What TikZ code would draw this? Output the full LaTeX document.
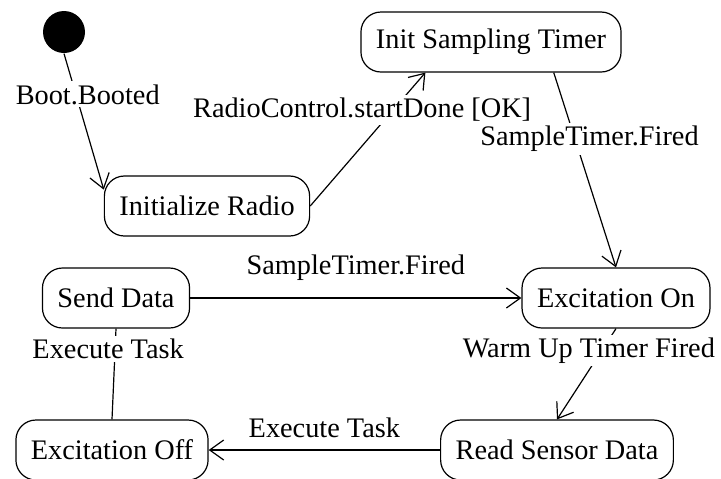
\documentclass[tikz,border=0pt]{standalone}
\usepackage{fontspec}
\setmainfont{Liberation Serif}
\usetikzlibrary{arrows.meta}
\begin{document}
\begin{tikzpicture} [
   x=0.5pt, y=-0.5pt, line width=0.6pt,
   -{Straight Barb[length=7pt,width=10pt]},
   font=\fontsize{14.15pt}{17pt}\selectfont,
   st/.style={rectangle, rounded corners=10pt, draw, minimum height=30pt, inner xsep=7.5pt},
   ini/.style={circle, fill, minimum size=21pt, inner sep=0pt},
   lbl/.style={fill=white, inner sep=1.5pt}
]
   \clip[-] (0,0) rectangle (721,478);
   \node (boot) [ini] at (64,32) {};
   \node (radio) [st] at (207,206) {Initialize Radio};
   \node (timer) [st] at (491,42) {Init Sampling Timer};
   \node (send) [st] at (116,298) {Send Data};
   \node (on) [st, right of=send, node distance=250pt] {Excitation On};
   \node (off) [st] at (112,450) {Excitation Off};
   \node (read) [st, right of=off, node distance=222.5pt] {Read Sensor Data};
   \path (boot.south) edge node [lbl, pos=0.3, xshift=5.9pt] {Boot.Booted} (radio.171)
         (radio.east) edge node [lbl, pos=0.72, xshift=-15.5pt] {RadioControl.startDone [OK]} (timer.205)
         (timer.334) edge node [lbl, pos=0.34, xshift=7.3pt] {SampleTimer.Fired} (on.north)
         (send.east) edge node [lbl, yshift=15pt] {SampleTimer.Fired} (on.west)
         (on.south) edge node [lbl, pos=0.24, xshift=-6.5pt] {Warm Up Timer Fired} (read.north)
         (read.west) edge node [lbl, yshift=11pt] {Execute Task} (off.east)
         (off.north) edge [-] node [lbl, pos=0.78, xshift=-3.5pt] {Execute Task} (send.south);
\end{tikzpicture}
\end{document}
